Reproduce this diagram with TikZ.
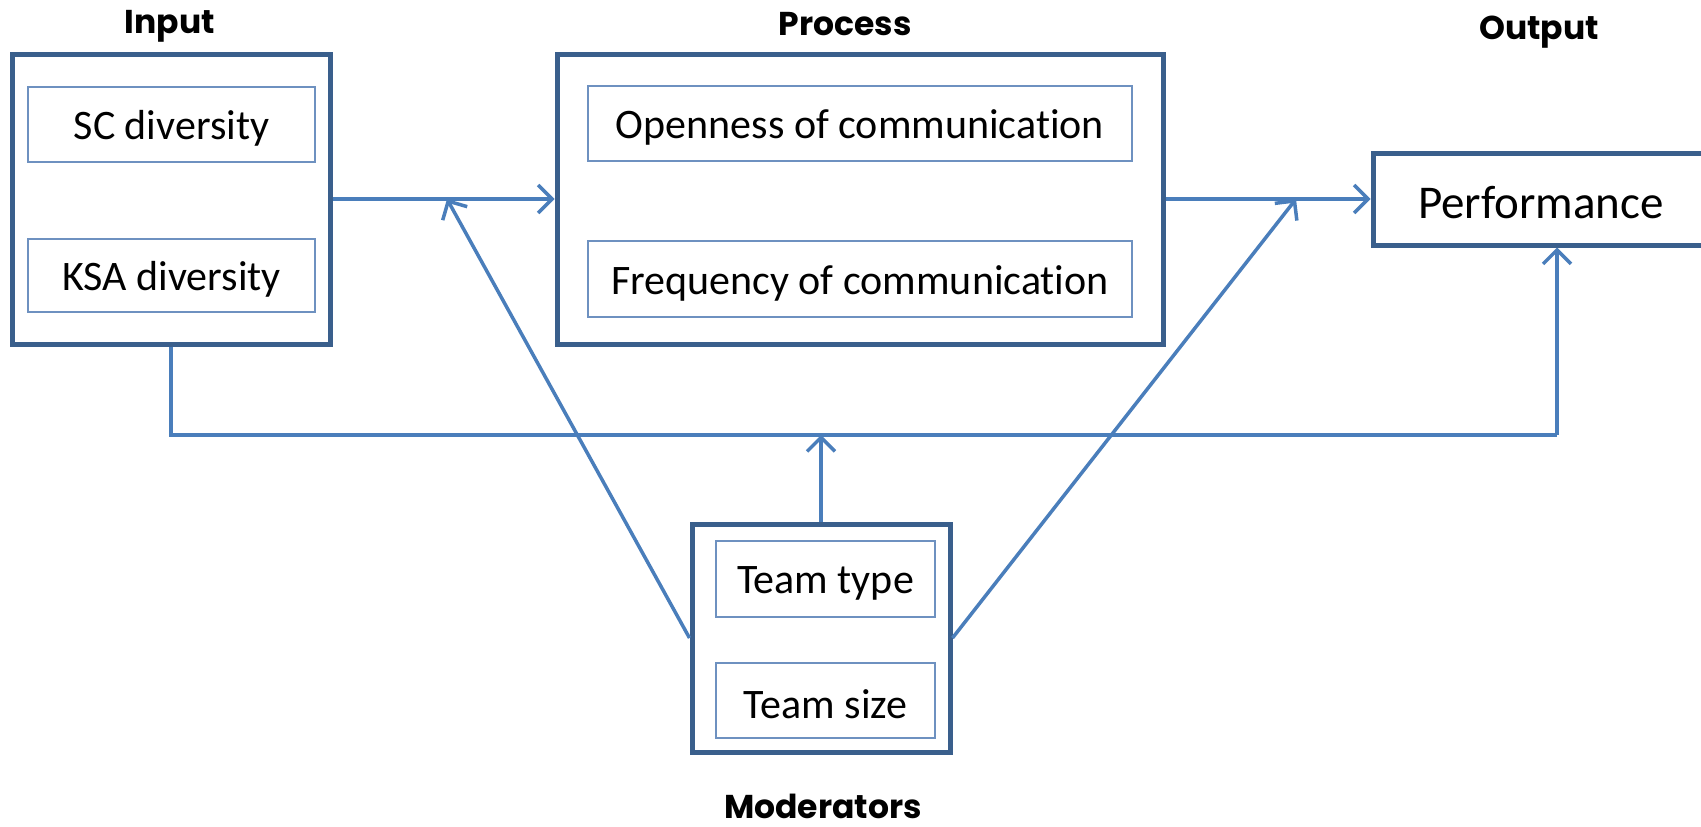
\documentclass[tikz,border=0pt]{standalone}
\usepackage{fontspec}
\setmainfont{Carlito}[Ligatures=NoCommon]
\newfontfamily\titlefont{Poppins}[UprightFont=* Bold]
\usetikzlibrary{arrows.meta}
\definecolor{outerc}{RGB}{58,95,140}
\definecolor{arrc}{RGB}{74,126,187}
\definecolor{innerc}{RGB}{110,145,192}
\newcommand{\lowertxt}[1]{\raisebox{-4pt}[\height][\depth]{#1}}
\tikzset{
  outerbox/.style={draw=outerc, line width=5pt, rectangle, inner sep=0pt},
  innerbox/.style={draw=innerc, line width=1.7pt, rectangle, inner sep=0pt, font=\fontsize{42}{50}\selectfont},
  titlelbl/.style={font=\titlefont\fontsize{33}{38}\selectfont, inner sep=0pt},
  arr/.style={draw=arrc, line width=3.5pt, -{Straight Barb[length=14pt, width=28pt, line width=3.5pt]}},
  ln/.style={draw=arrc, line width=3.5pt}
}
\begin{document}
\begin{tikzpicture}[x=1pt, y=-1pt]
\useasboundingbox (0,0) rectangle (1701,827);
% titles
\node[titlelbl] (tin) at (170,26) {Input};
\node[titlelbl] (tpr) at (845,24) {Process};
\node[titlelbl] (tout) at (1539,32) {Output};
\node[titlelbl] (tmod) at (823,806) {Moderators};
% input
\node[outerbox, minimum width=318pt, minimum height=290pt] (inp) at (171,199) {};
\node[innerbox, minimum width=287pt, minimum height=75pt] (sc) at (171.5,124.5) {\lowertxt{SC diversity}};
\node[innerbox, minimum width=287pt, minimum height=73pt] (ksa) at (171.5,275.5) {\lowertxt{KSA diversity}};
% process
\node[outerbox, minimum width=606pt, minimum height=290pt] (proc) at (860,199) {};
\node[innerbox, minimum width=544pt, minimum height=75pt] (open) at (860,123.5) {\lowertxt{Openness of communication}};
\node[innerbox, minimum width=544pt, minimum height=76pt] (freq) at (860,279) {\lowertxt{Frequency of communication}};
% output
\node[outerbox, minimum width=336pt, minimum height=92pt, font=\fontsize{47}{56}\selectfont] (perf) at (1541,199) {\lowertxt{Performance}};
% moderators
\node[outerbox, minimum width=258pt, minimum height=228pt] (mod) at (821,638) {};
\node[innerbox, minimum width=219pt, minimum height=76pt] (ttype) at (825.5,579) {\lowertxt{Team type}};
\node[innerbox, minimum width=219pt, minimum height=75pt] (tsize) at (825.5,700.5) {\lowertxt{Team size}};
% connector points
\coordinate (j1) at (447,199);
\coordinate (j2) at (1296,199);
\coordinate (bl) at (171,435);
\coordinate (br) at (1557,435);
% connectors
\draw[arr] (inp.east) -- (proc.west);
\draw[arr] (proc.east) -- (perf.west);
\draw[arr] (mod.west) -- (j1);
\draw[arr] (mod.east) -- (j2);
\draw[arr] (mod.north) -- (mod.north |- bl);
\draw[ln] (inp.south) -- (bl) -- (br);
\draw[arr] (br) -- (br |- perf.south);
\end{tikzpicture}
\end{document}
